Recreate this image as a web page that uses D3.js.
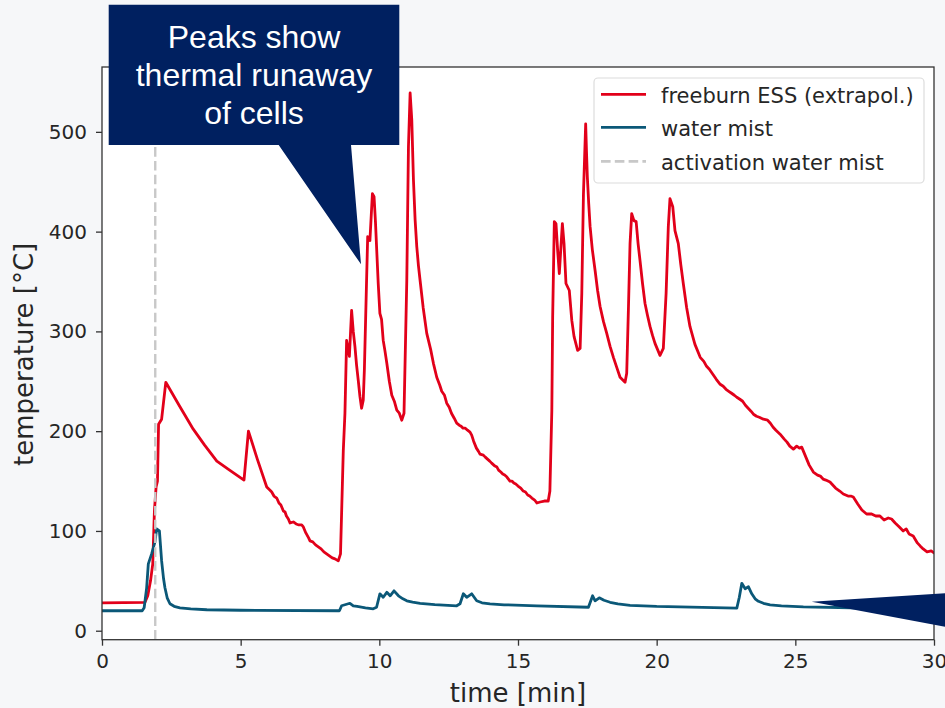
<!DOCTYPE html>
<html>
<head>
<meta charset="utf-8">
<script src="https://cdn.jsdelivr.net/npm/d3@7"></script>
<style>
  html, body { margin: 0; padding: 0; background: #f6f7f9; }
  svg { display: block; }
</style>
</head>
<body>
<svg id="chart" width="945" height="708"></svg>
<script>
// ---------------- DATA ----------------
const xTicks = [0, 5, 10, 15, 20, 25, 30];
const yTicks = [0, 100, 200, 300, 400, 500];
const activationTime = 1.92;
const seriesNames = ["freeburn ESS (extrapol.)", "water mist", "activation water mist"];

const freeburnTime = [
  0, 1.55, 1.65, 1.75, 1.83, 1.89, 1.95, 2.0, 2.04, 2.15, 2.30, 2.8, 3.29, 3.7, 4.14, 4.6, 5.12, 5.28, 5.6,
  5.94, 6.05, 6.12, 6.2, 6.3, 6.38, 6.45, 6.54, 6.6, 6.65, 6.72, 6.78, 6.9, 7.0, 7.1, 7.2, 7.26, 7.35, 7.45,
  7.5, 7.6, 7.7, 7.8, 7.9, 8.0, 8.1, 8.2, 8.3, 8.4, 8.52, 8.6, 8.7, 8.76, 8.82, 8.92, 9.0, 9.06, 9.12, 9.18, 9.24, 9.30, 9.36,
  9.42, 9.46, 9.54, 9.58, 9.66, 9.75, 9.81, 9.86, 9.9, 9.96, 10.02, 10.08, 10.14, 10.2, 10.27, 10.36, 10.45, 10.54, 10.63, 10.72, 10.81, 10.89, 10.99,
  11.05, 11.11, 11.17, 11.23, 11.29, 11.35, 11.41, 11.47, 11.58, 11.71, 11.85, 11.95, 12.07, 12.18, 12.25, 12.35, 12.43, 12.52, 12.6, 12.7, 12.79, 12.88, 12.95, 13.02, 13.1,
  13.18, 13.27, 13.33, 13.4, 13.5, 13.57, 13.63, 13.75, 13.82, 13.9, 13.98, 14.05, 14.17, 14.24, 14.3, 14.38, 14.45, 14.52, 14.6, 14.71, 14.78, 14.85, 14.92, 15.0, 15.1, 15.19, 15.27, 15.35,
  15.42, 15.5, 15.6, 15.68, 15.8, 15.95, 16.09, 16.15, 16.22, 16.25, 16.31, 16.37, 16.43, 16.49, 16.54, 16.60, 16.66,
  16.73, 16.85, 16.94, 17.02, 17.15, 17.24, 17.30, 17.36, 17.44, 17.47, 17.50, 17.55, 17.60, 17.68, 17.78, 17.87, 17.96, 18.08, 18.20, 18.32, 18.44,
  18.56, 18.68, 18.86, 18.92, 18.98, 19.04, 19.10, 19.18, 19.26, 19.33, 19.40, 19.49, 19.58, 19.67, 19.76, 19.85, 19.94, 20.03, 20.12, 20.24, 20.34,
  20.42, 20.48, 20.58, 20.66, 20.78, 20.87, 20.96, 21.08, 21.20, 21.38, 21.57, 21.7, 21.8, 21.9, 22.0, 22.15, 22.29, 22.4, 22.5, 22.6, 22.7, 22.8, 22.89, 23.0, 23.1, 23.2, 23.3, 23.4,
  23.49, 23.6, 23.7, 23.85, 24.0, 24.1, 24.2, 24.3, 24.45, 24.6, 24.7, 24.8, 24.93, 25.05, 25.15, 25.23, 25.35, 25.5, 25.65, 25.8,
  25.9, 26.0, 26.1, 26.25, 26.35, 26.45, 26.6, 26.73, 26.9, 27.0, 27.09, 27.25, 27.4, 27.57, 27.75, 27.9, 28.05, 28.2, 28.35, 28.47,
  28.6, 28.75, 28.89, 29.0, 29.1, 29.25, 29.4, 29.5, 29.61, 29.75, 29.9, 30.0
];
const freeburnTemp = [
  28, 28.5, 35, 50, 67, 120, 144, 150, 207, 212, 249, 225, 202, 186, 170, 161, 151, 200, 172,
  144, 141, 139, 135, 133, 128, 126, 120, 119, 115, 112, 108, 109, 107, 106, 106, 104, 98, 93,
  90, 89, 86, 84, 82, 79, 77, 75, 73, 72, 70, 77, 180, 218, 291, 275, 321, 300, 285, 266, 251, 235, 223,
  231, 261, 351, 395, 391, 438, 435, 410, 385, 348, 318, 312, 291, 281, 268, 250, 236, 230, 221, 218, 211, 218, 351,
  485, 539, 512, 452, 412, 385, 366, 351, 324, 298, 282, 268, 254, 246, 240, 236, 228, 224, 218, 213, 208, 206, 205, 203, 203,
  201, 199, 196, 190, 183, 180, 177, 176, 174, 172, 170, 168, 165, 164, 161, 159, 157, 156, 154, 150, 150, 148, 147, 145, 143, 140, 139, 136,
  135, 133, 131, 128, 129, 130, 130, 140, 221, 315, 410, 408, 381, 358, 381, 408, 388,
  348, 341, 311, 295, 281, 283, 338, 438, 508, 480, 455, 428, 405, 382, 361, 341, 325, 310, 298, 285, 274,
  264, 254, 249, 258, 321, 388, 418, 411, 410, 388, 371, 348, 328, 316, 305, 296, 288, 282, 276, 283, 338,
  405, 433, 425, 401, 388, 367, 348, 324, 305, 287, 274, 270, 265, 262, 258, 252, 247, 245, 242, 240, 238, 236, 234, 232, 230, 226, 223, 220,
  217, 215, 214, 212, 211, 208, 204, 201, 197, 192, 189, 185, 182, 185, 183, 184, 176, 166, 159, 156,
  155, 152, 151, 149, 146, 143, 140, 137, 135, 135, 134, 127, 121, 117, 117, 115, 115, 111, 113, 112,
  108, 104, 100, 102, 97, 95, 88, 85, 82, 79, 80, 78
];

const waterMistTime = [
  0, 1.45, 1.52, 1.61, 1.67, 1.79, 1.91, 1.97, 2.07, 2.15, 2.22, 2.27, 2.35, 2.45, 2.6, 2.81, 3.2, 3.78, 5.0, 8.56, 8.64, 8.94, 9.06,
  9.2, 9.5, 9.78, 9.9, 10.02, 10.14, 10.27, 10.39, 10.53, 10.69, 10.85, 10.99, 11.2, 11.47, 12.0, 12.79, 12.91, 13.03, 13.15, 13.33,
  13.51, 13.7, 13.99, 14.5, 15.68, 17.54, 17.69, 17.78, 17.93, 18.1, 18.32, 18.6, 19.04, 20.0, 22.89, 22.98, 23.07, 23.19, 23.31, 23.43,
  23.55, 23.67, 23.85, 24.09, 24.5, 25.29, 27.0, 30
];
const waterMistTemp = [
  20, 20, 23, 43, 67, 77, 89, 102, 100, 70, 52, 43, 33, 27, 24.5, 23, 21.8, 21, 20.5, 20, 25, 27.5, 25,
  24.5, 23, 22, 23.5, 37, 33.5, 38.5, 35, 40, 35, 32, 30, 28.7, 27.5, 26.2, 25, 27, 37, 33.5, 37,
  30, 28, 27, 26, 25, 23.5, 35, 30, 33, 30.5, 28.5, 26.8, 25.5, 24.3, 22.7, 33.5, 47.5, 42, 44, 37,
  32, 29.5, 27.5, 26, 25, 24, 23, 22
];

// ---------------- STYLE / LAYOUT ----------------
const W = 945, H = 708;
const plot = { left: 102, right: 934, top: 67, bottom: 639.7 };
const colors = { red: "#e2001a", blue: "#0b5878", grey: "#c8c8c8", navy: "#002060", bg: "#f6f7f9" };
const tickFont = "DejaVu Sans, sans-serif";

const svg = d3.select("#chart");
svg.append("rect").attr("width", W).attr("height", H).attr("fill", colors.bg);

const x = d3.scaleLinear().domain([0, 30]).range([plot.left, plot.right]);
const y = d3.scaleLinear().domain([-9, 565]).range([plot.bottom, plot.top]);

svg.append("rect")
  .attr("x", plot.left).attr("y", plot.top)
  .attr("width", plot.right - plot.left).attr("height", plot.bottom - plot.top)
  .attr("fill", "#ffffff");

svg.append("clipPath").attr("id", "clip")
  .append("rect")
  .attr("x", plot.left).attr("y", plot.top)
  .attr("width", plot.right - plot.left).attr("height", plot.bottom - plot.top);

const g = svg.append("g").attr("clip-path", "url(#clip)");

const red = freeburnTime.map((t, i) => [t, freeburnTemp[i]]);
const blue = waterMistTime.map((t, i) => [t, waterMistTemp[i]]);
const line = d3.line().x(d => x(d[0])).y(d => y(d[1]));

g.append("path").datum(red).attr("d", line)
  .attr("fill", "none").attr("stroke", colors.red).attr("stroke-width", 2.8)
  .attr("stroke-linejoin", "round").attr("stroke-linecap", "round");
g.append("path").datum(blue).attr("d", line)
  .attr("fill", "none").attr("stroke", colors.blue).attr("stroke-width", 2.8)
  .attr("stroke-linejoin", "round").attr("stroke-linecap", "round");
g.append("line")
  .attr("x1", x(activationTime)).attr("x2", x(activationTime))
  .attr("y1", y.range()[0]).attr("y2", y.range()[1])
  .attr("stroke", colors.grey).attr("stroke-width", 2.4).attr("stroke-dasharray", "9.6,4.2");

const xAxis = d3.axisBottom(x).tickValues(xTicks).tickFormat(d3.format("d")).tickSize(6).tickPadding(8);
const yAxis = d3.axisLeft(y).tickValues(yTicks).tickFormat(d3.format("d")).tickSize(6).tickPadding(9);

const gx = svg.append("g").attr("transform", `translate(0,${plot.bottom})`).call(xAxis);
const gy = svg.append("g").attr("transform", `translate(${plot.left},0)`).call(yAxis);
[gx, gy].forEach(a => {
  a.select(".domain").remove();
  a.selectAll(".tick line").attr("stroke", "#333").attr("stroke-width", 1.3);
  a.selectAll(".tick text").attr("fill", "#262626").style("font-family", tickFont).style("font-size", "20px");
});

svg.append("rect")
  .attr("x", plot.left).attr("y", plot.top)
  .attr("width", plot.right - plot.left).attr("height", plot.bottom - plot.top)
  .attr("fill", "none").attr("stroke", "#333").attr("stroke-width", 1.3);

svg.append("text").attr("x", (plot.left + plot.right) / 2).attr("y", 702)
  .attr("text-anchor", "middle").attr("fill", "#262626")
  .style("font-family", tickFont).style("font-size", "26px").text("time [min]");
svg.append("text").attr("transform", `translate(33,${(plot.top + plot.bottom) / 2 + 1}) rotate(-90)`)
  .attr("text-anchor", "middle").attr("fill", "#262626")
  .style("font-family", tickFont).style("font-size", "26px").text("temperature [°C]");

const lg = svg.append("g");
lg.append("rect").attr("x", 594).attr("y", 78).attr("width", 330).attr("height", 105)
  .attr("rx", 4).attr("fill", "#ffffff").attr("fill-opacity", 0.85)
  .attr("stroke", "#dcdcdc").attr("stroke-width", 1.2);
const legendItems = [
  { name: seriesNames[0], color: colors.red, dash: null, yy: 94.3 },
  { name: seriesNames[1], color: colors.blue, dash: null, yy: 127.3 },
  { name: seriesNames[2], color: colors.grey, dash: "9.6,4.2", yy: 161.3 }
];
legendItems.forEach(it => {
  lg.append("line").attr("x1", 601).attr("x2", 646).attr("y1", it.yy).attr("y2", it.yy)
    .attr("stroke", it.color).attr("stroke-width", 2.8).attr("stroke-dasharray", it.dash);
  lg.append("text").attr("x", 661).attr("y", it.yy).attr("dy", "0.4em").attr("fill", "#262626")
    .style("font-family", tickFont).style("font-size", "21px").text(it.name);
});

svg.append("path")
  .attr("d", "M108.7,4.7 L399.3,4.7 L399.3,145 L351,145 L361,264.3 L278.7,145 L108.7,145 Z")
  .attr("fill", colors.navy);
const calloutLines = ["Peaks show", "thermal runaway", "of cells"];
calloutLines.forEach((s, i) => {
  svg.append("text").attr("x", 254).attr("y", 48.3 + i * 37.9)
    .attr("text-anchor", "middle").attr("fill", "#ffffff")
    .style("font-family", "Liberation Sans, Arial, sans-serif").style("font-size", "32px").text(s);
});

svg.append("path")
  .attr("d", "M811.7,601.7 L960,592.4 L960,629.5 Z")
  .attr("fill", colors.navy);
</script>
</body>
</html>
